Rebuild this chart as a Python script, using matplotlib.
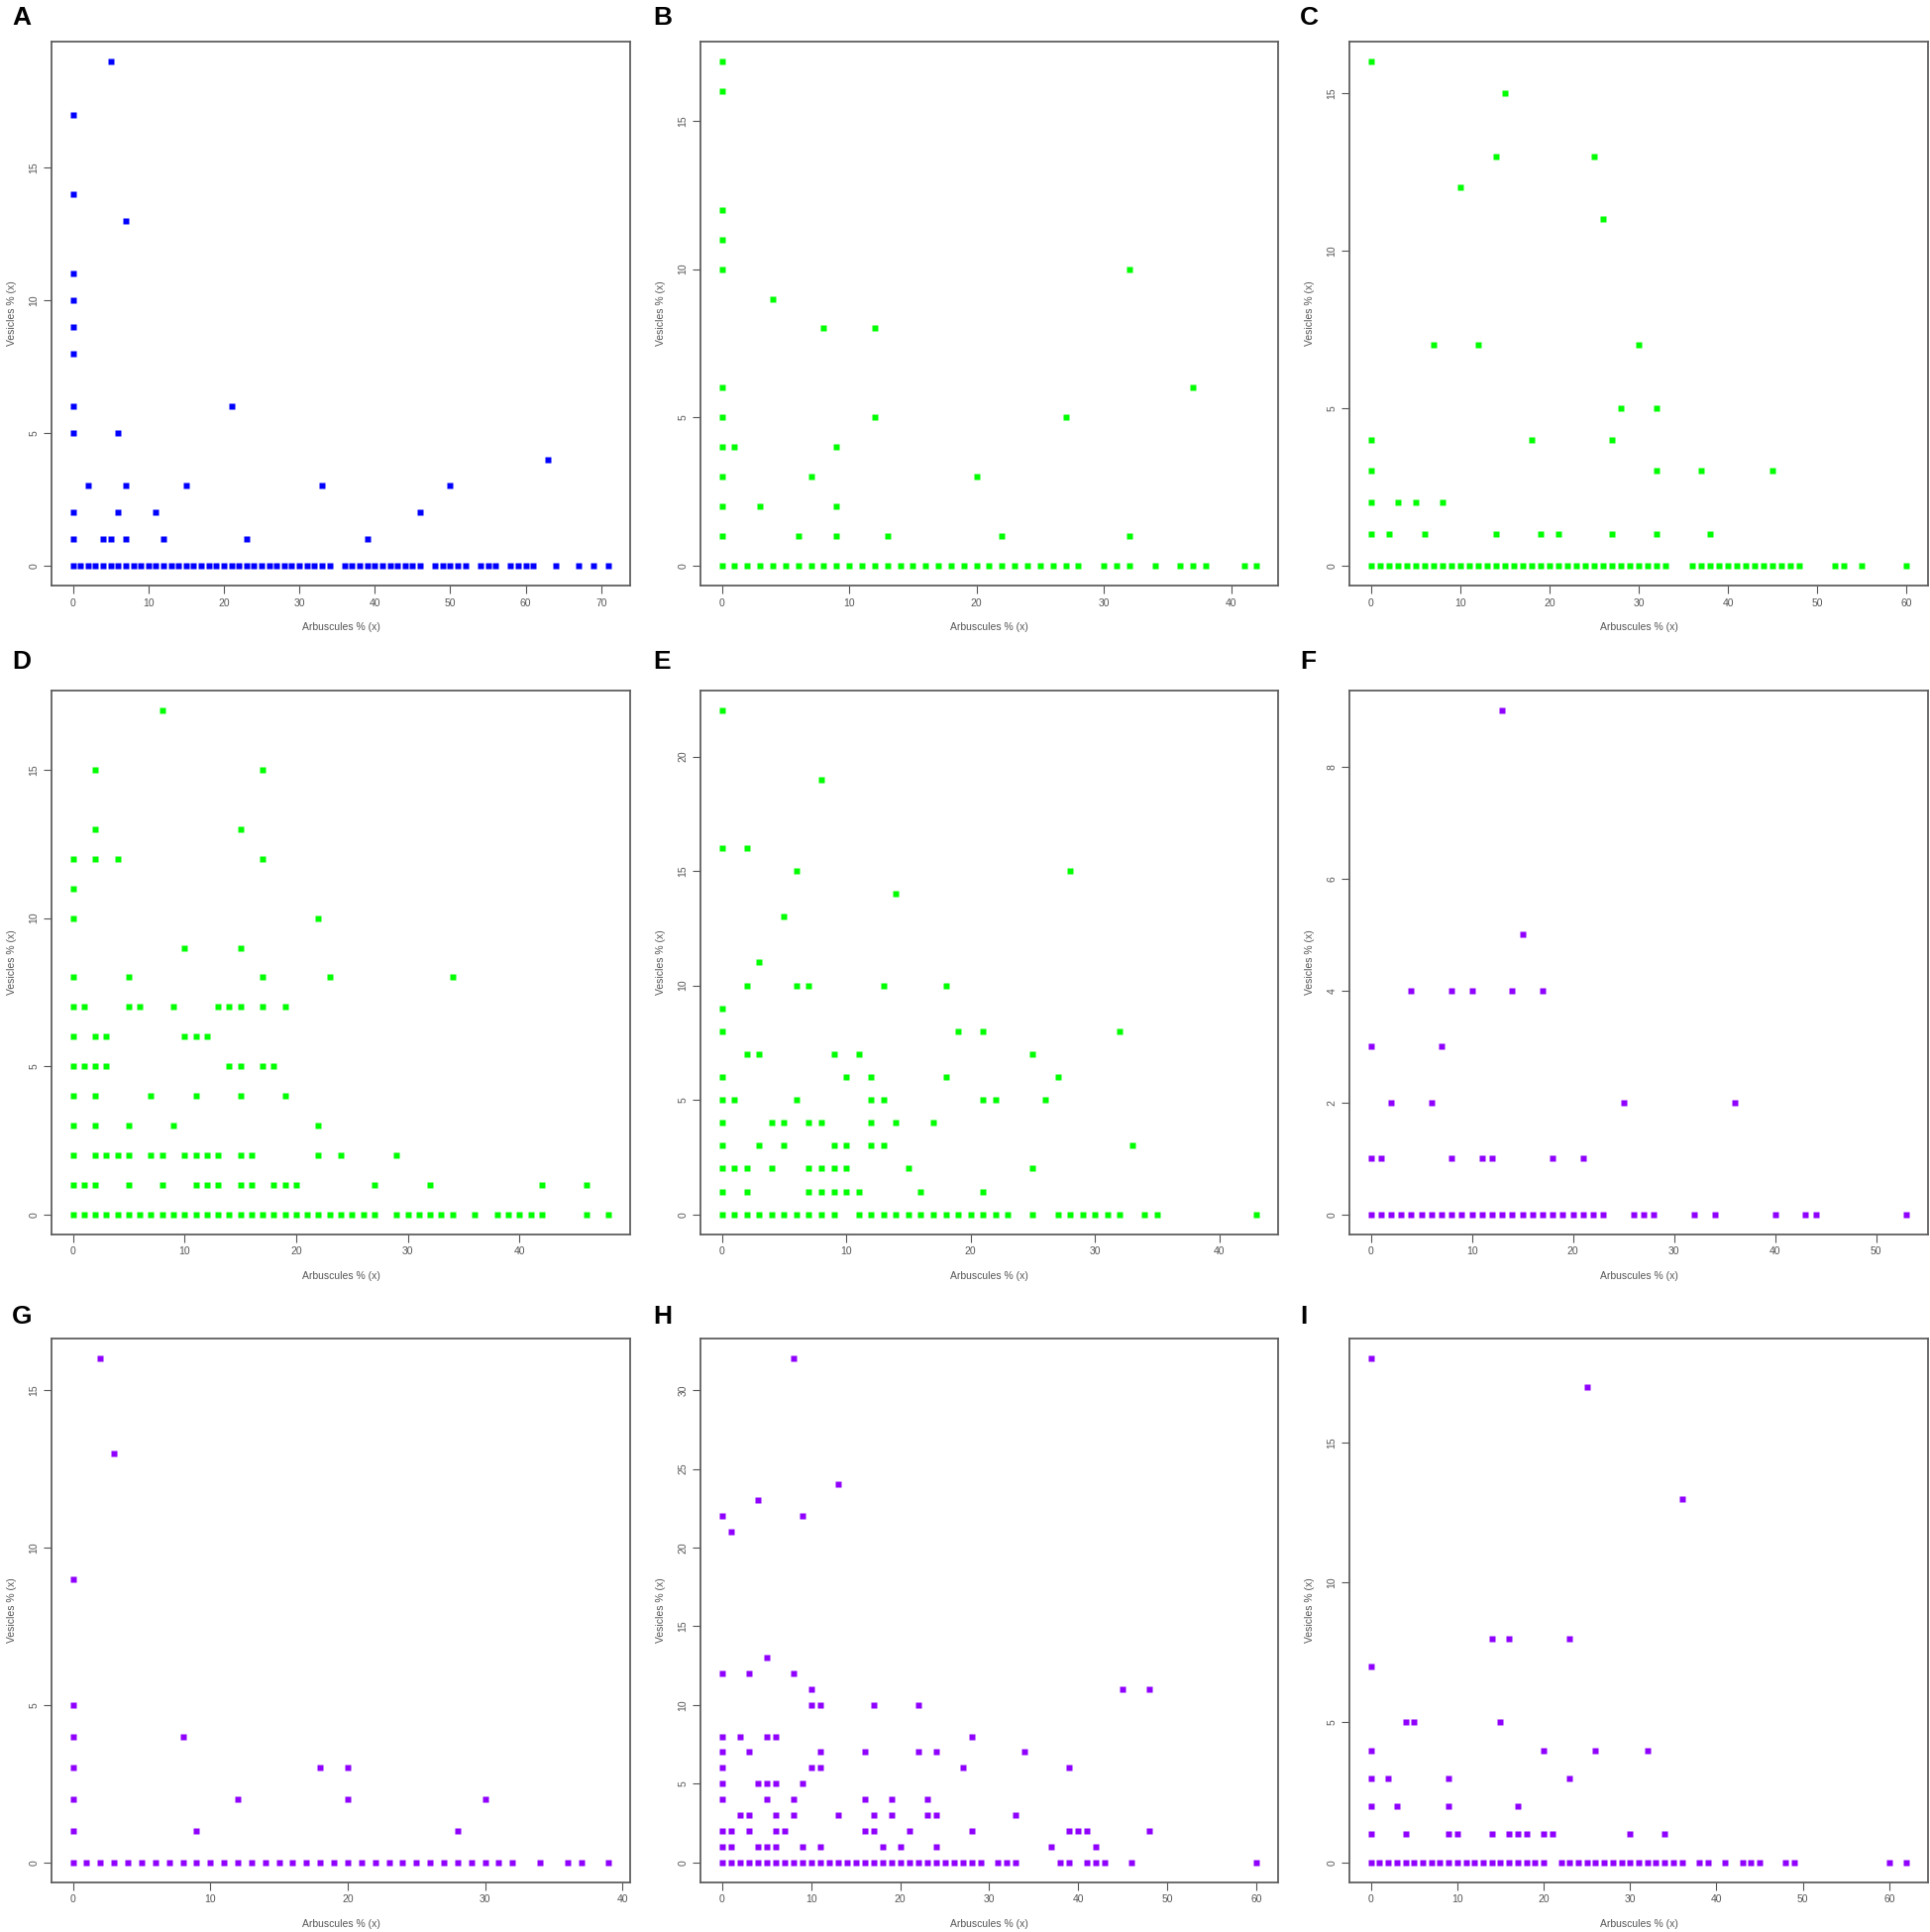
import matplotlib
matplotlib.use("Agg")
import matplotlib.pyplot as plt

# ---------------- data: for each panel, vesicle value -> list of arbuscule values ----------------
A_rows = {
    0: [0, 1, 2, 3, 4, 5, 6, 7, 8, 9, 10, 11, 12, 13, 14, 15, 16, 17, 18, 19, 20, 21, 22, 23, 24, 25,
        26, 27, 28, 29, 30, 31, 32, 33, 34, 36, 37, 38, 39, 40, 41, 42, 43, 44, 45, 46, 48, 49, 50, 51,
        52, 54, 55, 56, 58, 59, 60, 61, 64, 67, 69, 71],
    1: [0, 4, 5, 7, 12, 23, 39],
    2: [0, 6, 11, 46],
    3: [2, 7, 15, 33, 50],
    4: [63],
    5: [0, 6],
    6: [0, 21],
    8: [0], 9: [0], 10: [0], 11: [0],
    13: [7], 14: [0], 17: [0], 19: [5],
}
B_rows = {
    0: [0, 1, 2, 3, 4, 5, 6, 7, 8, 9, 10, 11, 12, 13, 14, 15, 16, 17, 18, 19, 20, 21, 22, 23, 24, 25,
        26, 27, 28, 30, 31, 32, 34, 36, 37, 38, 41, 42],
    1: [0, 6, 9, 13, 22, 32],
    2: [0, 3, 9],
    3: [0, 7, 20],
    4: [0, 1, 9],
    5: [0, 12, 27],
    6: [0, 37],
    8: [8, 12],
    9: [4],
    10: [0, 32],
    11: [0], 12: [0], 16: [0], 17: [0],
}
C_rows = {
    0: [0, 1, 2, 3, 4, 5, 6, 7, 8, 9, 10, 11, 12, 13, 14, 15, 16, 17, 18, 19, 20, 21, 22, 23, 24, 25,
        26, 27, 28, 29, 30, 31, 32, 33, 36, 37, 38, 39, 40, 41, 42, 43, 44, 45, 46, 47, 48, 52, 53, 55, 60],
    1: [0, 2, 6, 14, 19, 21, 27, 32, 38],
    2: [0, 3, 5, 8],
    3: [0, 32, 37, 45],
    4: [0, 18, 27],
    5: [28, 32],
    7: [7, 12, 30],
    11: [26],
    12: [10],
    13: [14, 25],
    15: [15],
    16: [0],
}
D_rows = {
    0: [0, 1, 2, 3, 4, 5, 6, 7, 8, 9, 10, 11, 12, 13, 14, 15, 16, 17, 18, 19, 20, 21, 22, 23, 24, 25,
        26, 27, 29, 30, 31, 32, 33, 34, 36, 38, 39, 40, 41, 42, 46, 48],
    1: [0, 1, 2, 5, 8, 11, 12, 13, 15, 16, 18, 19, 20, 27, 32, 42, 46],
    2: [0, 2, 3, 4, 5, 7, 8, 10, 11, 12, 13, 15, 16, 22, 24, 29],
    3: [0, 2, 5, 9, 22],
    4: [0, 2, 7, 11, 15, 19],
    5: [0, 1, 2, 3, 14, 15, 17, 18],
    6: [0, 2, 3, 10, 11, 12],
    7: [0, 1, 5, 6, 9, 13, 14, 15, 17, 19],
    8: [0, 5, 17, 23, 34],
    9: [10, 15],
    10: [0, 22],
    11: [0],
    12: [0, 2, 4, 17],
    13: [2, 15],
    15: [2, 17],
    17: [8],
}
E_rows = {
    0: [0, 1, 2, 3, 4, 5, 6, 7, 8, 9, 11, 12, 13, 14, 15, 16, 17, 18, 19, 20, 21, 22, 23, 25, 27, 28,
        29, 30, 31, 32, 34, 35, 43],
    1: [0, 2, 7, 8, 9, 10, 11, 16, 21],
    2: [0, 1, 2, 4, 7, 8, 9, 10, 15, 25],
    3: [0, 3, 5, 9, 10, 12, 13, 33],
    4: [0, 4, 5, 7, 8, 12, 14, 17],
    5: [0, 1, 6, 12, 13, 21, 22, 26],
    6: [0, 10, 12, 18, 27],
    7: [2, 3, 9, 11, 25],
    8: [0, 19, 21, 32],
    9: [0],
    10: [2, 6, 7, 13, 18],
    11: [3],
    13: [5],
    14: [14],
    15: [6, 28],
    16: [0, 2],
    19: [8],
    22: [0],
}
F_rows = {
    0: [0, 1, 2, 3, 4, 5, 6, 7, 8, 9, 10, 11, 12, 13, 14, 15, 16, 17, 18, 19, 20, 21, 22, 23, 26, 27,
        28, 32, 34, 40, 43, 44, 53],
    1: [0, 1, 8, 11, 12, 18, 21],
    2: [2, 6, 25, 36],
    3: [0, 7],
    4: [4, 8, 10, 14, 17],
    5: [15],
    9: [13],
}
G_rows = {
    0: [0, 1, 2, 3, 4, 5, 6, 7, 8, 9, 10, 11, 12, 13, 14, 15, 16, 17, 18, 19, 20, 21, 22, 23, 24, 25,
        26, 27, 28, 29, 30, 31, 32, 34, 36, 37, 39],
    1: [0, 9, 28],
    2: [0, 12, 20, 30],
    3: [0, 18, 20],
    4: [0, 8],
    5: [0],
    9: [0],
    13: [3],
    16: [2],
}
H_rows = {
    0: [0, 1, 2, 3, 4, 5, 6, 7, 8, 9, 10, 11, 12, 13, 14, 15, 16, 17, 18, 19, 20, 21, 22, 23, 24, 25,
        26, 27, 28, 29, 31, 32, 33, 38, 39, 41, 42, 43, 46, 60],
    1: [0, 1, 4, 5, 6, 9, 11, 18, 20, 24, 37, 42],
    2: [0, 1, 3, 6, 7, 16, 17, 21, 28, 39, 40, 41, 48],
    3: [2, 3, 6, 8, 13, 17, 19, 23, 24, 33],
    4: [0, 5, 8, 16, 19, 23],
    5: [0, 4, 5, 6, 9],
    6: [0, 10, 11, 27, 39],
    7: [0, 3, 11, 16, 22, 24, 34],
    8: [0, 2, 5, 6, 28],
    10: [10, 11, 17, 22],
    11: [10, 45, 48],
    12: [0, 3, 8],
    13: [5],
    21: [1],
    22: [0, 9],
    23: [4],
    24: [13],
    32: [8],
}
I_rows = {
    0: [0, 1, 2, 3, 4, 5, 6, 7, 8, 9, 10, 11, 12, 13, 14, 15, 16, 17, 18, 19, 20, 22, 23, 24, 25, 26,
        27, 28, 29, 30, 31, 32, 33, 34, 35, 36, 38, 39, 41, 43, 44, 45, 48, 49, 60, 62],
    1: [0, 4, 9, 10, 14, 16, 17, 18, 20, 21, 30, 34],
    2: [0, 3, 9, 17],
    3: [0, 2, 9, 23],
    4: [0, 20, 26, 32],
    5: [4, 5, 15],
    7: [0],
    8: [14, 16, 23],
    13: [36],
    17: [25],
    18: [0],
}

panel_labels = ["A", "B", "C", "D", "E", "F", "G", "H", "I"]
panel_data = [A_rows, B_rows, C_rows, D_rows, E_rows, F_rows, G_rows, H_rows, I_rows]
panel_colors = ["#0000FF", "#00FF00", "#00FF00", "#00FF00", "#00FF00",
                "#8F00FF", "#8F00FF", "#8F00FF", "#8F00FF"]
x_ticks = [[0, 10, 20, 30, 40, 50, 60, 70], [0, 10, 20, 30, 40], [0, 10, 20, 30, 40, 50, 60],
           [0, 10, 20, 30, 40], [0, 10, 20, 30, 40], [0, 10, 20, 30, 40, 50],
           [0, 10, 20, 30, 40], [0, 10, 20, 30, 40, 50, 60], [0, 10, 20, 30, 40, 50, 60]]
y_ticks = [[0, 5, 10, 15], [0, 5, 10, 15], [0, 5, 10, 15],
           [0, 5, 10, 15], [0, 5, 10, 15, 20], [0, 2, 4, 6, 8],
           [0, 5, 10, 15], [0, 5, 10, 15, 20, 25, 30], [0, 5, 10, 15]]
x_label = "Arbuscules % (x)"
y_label = "Vesicles % (x)"

# ---------------- layout (pixels) ----------------
W, H = 1949, 1950
col_lr = [(52, 636), (707, 1290), (1362, 1946)]
row_tb = [(42, 591), (697, 1246), (1351, 1900)]
label_xy = [(12, 6), (659, 6), (1312, 6),
            (12, 656), (659, 656), (1312, 656),
            (12, 1317), (659, 1317), (1312, 1317)]

plt.rcParams["font.family"] = ["Liberation Sans", "DejaVu Sans"]
fig = plt.figure(figsize=(W / 100, H / 100), dpi=100)
fig.patch.set_facecolor("white")

for i in range(9):
    r, c = divmod(i, 3)
    l, rr = col_lr[c]
    t, b = row_tb[r]
    ax = fig.add_axes([l / W, 1 - b / H, (rr - l) / W, (b - t) / H])
    rows = panel_data[i]
    xs, ys = [], []
    for yv, xl in rows.items():
        for xv in xl:
            xs.append(xv)
            ys.append(yv)
    ax.plot(xs, ys, linestyle="none", marker="s", markersize=5.0,
            markerfacecolor=panel_colors[i], markeredgecolor="none")
    xmin, xmax = min(xs), max(xs)
    ymin, ymax = min(ys), max(ys)
    dx = 0.04 * (xmax - xmin)
    dy = 0.04 * (ymax - ymin)
    ax.set_xlim(xmin - dx, xmax + dx)
    ax.set_ylim(ymin - dy, ymax + dy)
    ax.set_xticks(x_ticks[i])
    ax.set_yticks(y_ticks[i])
    ax.tick_params(axis="both", direction="out", length=5.5, width=0.8,
                   color="#555555", labelsize=7.5, labelcolor="#555555", pad=3.5)
    ax.tick_params(axis="y", labelrotation=90)
    for lab in ax.get_yticklabels():
        lab.set_va("center")
    for sp in ax.spines.values():
        sp.set_color("#606060")
        sp.set_linewidth(1.3)
    ax.set_xlabel(x_label, fontsize=7.5, color="#555555")
    ax.set_ylabel(y_label, fontsize=7.5, color="#555555")
    pw, ph = rr - l, b - t
    ax.xaxis.set_label_coords(0.5, -42 / ph)
    ax.xaxis.label.set_va("center")
    ax.yaxis.set_label_coords(-40 / pw, 0.5)
    ax.yaxis.label.set_va("center")
    lx, ly = label_xy[i]
    fig.text(lx / W, 1 - ly / H, panel_labels[i], fontsize=19, fontweight="bold",
             ha="left", va="top", color="black")

fig.savefig("out.png", dpi=100, facecolor="white")
